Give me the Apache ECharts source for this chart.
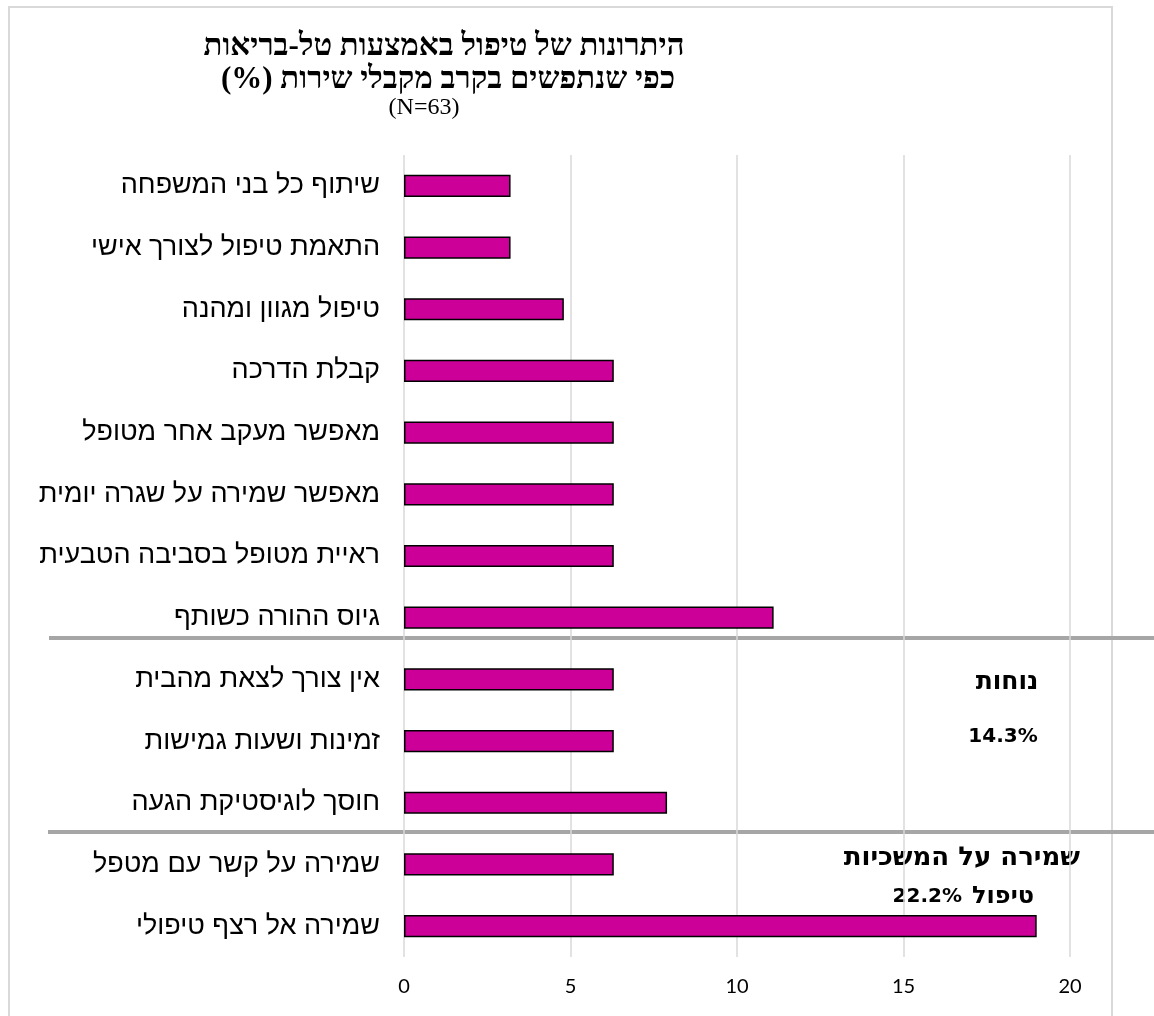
<!DOCTYPE html>
<html>
<head>
<meta charset="utf-8">
<style>
  html, body { margin: 0; padding: 0; background: #fff; }
  #main { width: 1154px; height: 1016px; direction: rtl; }
</style>
<script src="https://cdn.jsdelivr.net/npm/echarts@6/dist/echarts.min.js"></script>
</head>
<body>
<div id="main"></div>
<script>
var categories = [
    'שיתוף כל בני המשפחה',
    'התאמת טיפול לצורך אישי',
    'טיפול מגוון ומהנה',
    'קבלת הדרכה',
    'מאפשר מעקב אחר מטופל',
    'מאפשר שמירה על שגרה יומית',
    'ראיית מטופל בסביבה הטבעית',
    'גיוס ההורה כשותף',
    'אין צורך לצאת מהבית',
    'זמינות ושעות גמישות',
    'חוסך לוגיסטיקת הגעה',
    'שמירה על קשר עם מטפל',
    'שמירה אל רצף טיפולי'
];
var values = [3.2, 3.2, 4.8, 6.3, 6.3, 6.3, 6.3, 11.1, 6.3, 6.3, 7.9, 6.3, 19.0];
var xTicks = [0, 5, 10, 15, 20];

var titleLines = ['היתרונות של טיפול באמצעות טל-בריאות', 'כפי שנתפשים בקרב מקבלי שירות (%)'];
var titleN = '(N=63)';
var groupNames = ['נוחות', 'שמירה על המשכיות', 'טיפול'];
var groupShares = ['14.3%', '22.2%'];

var myChart = echarts.init(document.getElementById('main'));

var serif = "'Liberation Serif', 'DejaVu Serif', serif";
var boldSans = "'DejaVu Sans', 'Liberation Sans', sans-serif";

function note(x, y, text, size, align) {
    return {
        type: 'text', x: x, y: y,
        style: { text: text, font: 'bold ' + size + 'px ' + boldSans, fill: '#000', textAlign: align, textVerticalAlign: 'middle' }
    };
}

myChart.setOption({
    animation: false,
    grid: { left: 404, right: 84, top: 155, bottom: 59 },
    xAxis: {
        type: 'value',
        min: xTicks[0],
        max: xTicks[xTicks.length - 1],
        interval: 5,
        axisLine: { show: false },
        axisTick: { show: false },
        axisLabel: { margin: 20, fontSize: 20, color: '#000', fontFamily: 'Lato' },
        splitLine: { lineStyle: { color: '#d9d9d9', width: 1.5 } }
    },
    yAxis: {
        type: 'category',
        inverse: true,
        data: categories,
        axisLine: { show: false },
        axisTick: { show: false },
        axisLabel: { margin: 24, fontSize: 27, color: '#000', fontFamily: "'Liberation Sans', Arial, sans-serif" }
    },
    series: [{
        type: 'bar',
        data: values,
        barWidth: '36%',
        itemStyle: { color: '#cc0099', borderColor: '#000', borderWidth: 1.5 }
    }],
    graphic: [
        // outer frame
        { type: 'rect', shape: { x: 9, y: 7, width: 1103, height: 1030 }, style: { fill: 'none', stroke: '#d9d9d9', lineWidth: 2 }, silent: true },
        // title
        { type: 'text', x: 444, y: 47, style: { text: titleLines[0], font: 'bold 31px ' + serif, fill: '#000', textAlign: 'center', textVerticalAlign: 'middle' } },
        { type: 'text', x: 448, y: 80, style: { text: titleLines[1], font: 'bold 31px ' + serif, fill: '#000', textAlign: 'center', textVerticalAlign: 'middle' } },
        { type: 'text', x: 424, y: 108, style: { text: titleN, font: '24px ' + serif, fill: '#000', textAlign: 'center', textVerticalAlign: 'middle' } },
        // group separators
        { type: 'line', shape: { x1: 49, y1: 638, x2: 1154, y2: 638 }, style: { stroke: '#a6a6a6', lineWidth: 4 } },
        { type: 'line', shape: { x1: 48, y1: 832, x2: 1154, y2: 832 }, style: { stroke: '#a6a6a6', lineWidth: 4 } },
        // group notes
        note(1007, 682, groupNames[0], 25, 'center'),
        note(1003, 737, groupShares[0], 20, 'center'),
        note(1080, 858, groupNames[1], 26, 'right'),
        note(1034, 897, groupNames[2], 24, 'right'),
        note(962, 897, groupShares[1], 20, 'right')
    ]
});
</script>
</body>
</html>
